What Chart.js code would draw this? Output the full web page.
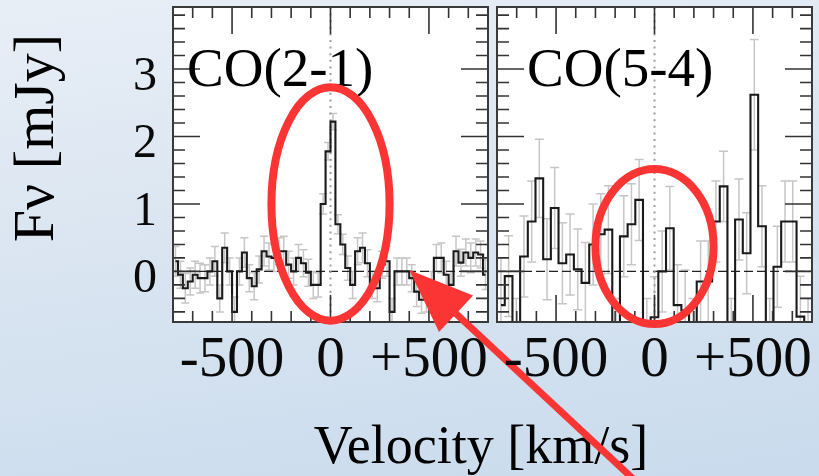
<!DOCTYPE html>
<html><head><meta charset="utf-8">
<script src="https://cdn.jsdelivr.net/npm/chart.js@4.4.0/dist/chart.umd.min.js"></script>
<style>
html,body{margin:0;padding:0;}
#wrap{position:relative;width:819px;height:476px;overflow:hidden;background:linear-gradient(172deg,#e8eef6 0%,#dae5f1 45%,#c9dbed 100%);}
canvas{position:absolute;left:0;top:0;}
</style></head><body>
<div id="wrap"><canvas id="c1" width="819" height="476"></canvas><canvas id="c2" width="819" height="476"></canvas></div>
<script>
// ---------- DATA ----------
const panelTitles = ['CO(2-1)', 'CO(5-4)'];
const xTickValues = [-500, 0, 500];
const xTickText = ['-500', '0', '+500'];
const yTickValues = [0, 1, 2, 3];
const xAxisTitle = 'Velocity [km/s]';
const yAxisTitle = 'F\u03BD [mJy]';

const co21Velocity = [-787.5,-762.5,-737.5,-712.5,-687.5,-662.5,-637.5,-612.5,-587.5,-562.5,-537.5,-512.5,-487.5,-462.5,-437.5,-412.5,-387.5,-362.5,-337.5,-312.5,-287.5,-262.5,-237.5,-212.5,-187.5,-162.5,-137.5,-112.5,-87.5,-62.5,-37.5,-12.5,12.5,37.5,62.5,87.5,112.5,137.5,162.5,187.5,212.5,237.5,262.5,287.5,312.5,337.5,362.5,387.5,412.5,437.5,462.5,487.5,512.5,537.5,562.5,587.5,612.5,637.5,662.5,687.5,712.5,737.5,762.5,787.5];
const co21Flux = [0.15,-0.05,-0.25,-0.15,-0.05,-0.1,-0.1,0.0,0.15,-0.4, 0.35,0.0,-0.6,0.0,0.28,-0.1,-0.22,0.03,0.3,0.22, 0.2,0.3,0.3,0.1,0.0,0.2,0.12,-0.02,-0.2,-0.2, 1.0,1.78,2.22,0.7,0.4,0.05,-0.2,0.3,0.35,0.12, -0.2,-0.25,0.1,0.15,-0.6,0.0,0.0,0.0,-0.1,-0.3, -0.42,-0.4,-0.2,0.2,0.2,-0.05,-0.2,0.3,0.13,0.28, 0.2,0.28,0.25,-0.05];
const co21Error = [0.22,0.2,0.22,0.2,0.2,0.22,0.2,0.2,0.22,0.2, 0.22,0.2,0.22,0.2,0.22,0.2,0.2,0.2,0.22,0.2, 0.2,0.2,0.22,0.2,0.2,0.2,0.2,0.2,0.2,0.18, 0.15,0.13,0.12,0.14,0.15,0.18,0.2,0.2,0.22,0.2, 0.2,0.2,0.2,0.22,0.2,0.2,0.2,0.2,0.2,0.22, 0.2,0.2,0.2,0.2,0.22,0.2,0.2,0.22,0.2,0.2, 0.22,0.2,0.2,0.22];

const co54Velocity = [-780,-741,-702,-663,-624,-585,-546,-507,-468,-429,-390,-351,-312,-273,-234,-195,-156,-117,-78,-39,0,39,78,117,156,195,234,273,312,351,390,429,468,507,546,585,624,663,702,741,780];
const co54Flux = [-0.5,-0.07,-1.0,0.22,0.74,1.38,0.18,0.94,0.12,0.25, 0.03,-0.17,0.4,0.55,0.62,-1.0,0.52,0.7,1.06,-1.0, -0.68,0.0,0.64,-0.5,-0.58,-1.0,-0.15,-0.15,0.74,1.26, -1.0,0.77,0.27,2.62,0.67,-1.0,0.07,0.74,0.74,-0.67, -1.0];
const co54Error = [0.7,0.6,0.6,0.6,0.6,0.58,0.6,0.6,0.6,0.6, 0.6,0.6,0.6,0.6,0.65,0.6,0.6,0.6,0.6,0.6, 0.6,0.6,0.62,0.6,0.6,0.6,0.6,0.6,0.6,0.52, 0.6,0.6,0.6,0.82,0.6,0.6,0.6,0.6,0.6,0.6, 0.6];

// ---------- STYLE / ANNOTATIONS ----------
const FONT = '"Liberation Serif", "Times New Roman", serif';
const RED = '#fb3434';
Chart.defaults.font.family = FONT;

function xLabel(v) {
  const i = xTickValues.findIndex(t => Math.abs(t - v) < 1e-6);
  return i >= 0 ? xTickText[i] : '';
}
function yLabel(v) {
  const i = yTickValues.findIndex(t => Math.abs(t - v) < 1e-6);
  return i >= 0 ? String(yTickValues[i]) : '';
}

function panelPlugin(cfg) {
  return {
    id: 'panel' + cfg.id,
    beforeDraw(chart) {
      const {ctx, chartArea: a} = chart;
      ctx.save();
      ctx.fillStyle = '#ffffff';
      ctx.fillRect(a.left, a.top, a.right - a.left, a.bottom - a.top);
      ctx.restore();
    },
    beforeDatasetsDraw(chart) {
      const {ctx, chartArea: a} = chart;
      const x = chart.scales.x, y = chart.scales.y;
      ctx.save();
      ctx.beginPath(); ctx.rect(a.left, a.top, a.right - a.left, a.bottom - a.top); ctx.clip();
      // error bars
      ctx.strokeStyle = '#c6c6c6'; ctx.lineWidth = 1.5;
      cfg.vel.forEach((v, i) => {
        const px = x.getPixelForValue(v);
        const lo = y.getPixelForValue(cfg.flux[i] - cfg.err[i]);
        const hi = y.getPixelForValue(cfg.flux[i] + cfg.err[i]);
        ctx.beginPath();
        ctx.moveTo(px, lo); ctx.lineTo(px, hi);
        ctx.moveTo(px - cfg.cap, lo); ctx.lineTo(px + cfg.cap, lo);
        ctx.moveTo(px - cfg.cap, hi); ctx.lineTo(px + cfg.cap, hi);
        ctx.stroke();
      });
      const y0 = y.getPixelForValue(0), x0 = x.getPixelForValue(0);
      ctx.setLineDash([9, 4]); ctx.strokeStyle = '#222'; ctx.lineWidth = 1.3;
      ctx.beginPath(); ctx.moveTo(a.left, y0); ctx.lineTo(a.right, y0); ctx.stroke();
      ctx.setLineDash([2, 4.6]); ctx.strokeStyle = '#9c9c9c'; ctx.lineWidth = 2;
      ctx.beginPath(); ctx.moveTo(x0, a.top); ctx.lineTo(x0, a.bottom); ctx.stroke();
      ctx.restore();
    },
    afterDatasetsDraw(chart) {
      const {ctx, chartArea: a} = chart;
      const x = chart.scales.x, y = chart.scales.y;
      ctx.save();
      // inner ticks on all four sides
      ctx.strokeStyle = '#333'; ctx.lineWidth = 1.6;
      ctx.beginPath();
      x.ticks.forEach(t => {
        if (t.value <= x.min || t.value >= x.max) return;
        const px = x.getPixelForValue(t.value);
        const len = (Math.abs(t.value % 500) < 1e-6) ? 27 : 11;
        ctx.moveTo(px, a.bottom); ctx.lineTo(px, a.bottom - len);
        ctx.moveTo(px, a.top); ctx.lineTo(px, a.top + len);
      });
      y.ticks.forEach(t => {
        if (t.value <= y.min || t.value >= y.max) return;
        const py = y.getPixelForValue(t.value);
        const len = (Math.abs(t.value - Math.round(t.value)) < 1e-6) ? 27 : 12;
        ctx.moveTo(a.left, py); ctx.lineTo(a.left + len, py);
        ctx.moveTo(a.right, py); ctx.lineTo(a.right - len, py);
      });
      ctx.stroke();
      // frame
      ctx.strokeStyle = '#3a3a3a'; ctx.lineWidth = 2;
      ctx.strokeRect(a.left, a.top, a.right - a.left, a.bottom - a.top);
      // panel title
      ctx.fillStyle = '#000';
      ctx.font = '55px ' + FONT;
      ctx.textAlign = 'left'; ctx.textBaseline = 'alphabetic';
      ctx.fillText(cfg.title, a.left + cfg.titleDx, 86);
      ctx.restore();
    },
    afterDraw(chart) {
      const {ctx} = chart;
      const x = chart.scales.x, y = chart.scales.y;
      ctx.save();
      if (cfg.axisTitles) {
        ctx.fillStyle = '#000';
        ctx.font = '54px ' + FONT;
        ctx.textAlign = 'center'; ctx.textBaseline = 'alphabetic';
        ctx.fillText(xAxisTitle, 481, 463);
        ctx.save();
        ctx.font = '58px ' + FONT;
        ctx.translate(38, 138); ctx.rotate(-Math.PI / 2);
        ctx.textBaseline = 'middle';
        ctx.fillText(yAxisTitle, 0, 0);
        ctx.restore();
      }
      // red ellipse annotation
      const e = cfg.ellipse;
      const cx = x.getPixelForValue(e.cx), cy = y.getPixelForValue(e.cy);
      const rx = Math.abs(x.getPixelForValue(e.cx + e.rx) - cx);
      const ry = Math.abs(y.getPixelForValue(e.cy + e.ry) - cy);
      ctx.strokeStyle = RED; ctx.lineWidth = 8;
      ctx.beginPath(); ctx.ellipse(cx, cy, rx, ry, 0, 0, Math.PI * 2); ctx.stroke();
      // red arrow annotation
      if (cfg.arrow) {
        const tx = x.getPixelForValue(cfg.arrow.tip[0]), ty = y.getPixelForValue(cfg.arrow.tip[1]);
        const sx = x.getPixelForValue(cfg.arrow.tail[0]), sy = y.getPixelForValue(cfg.arrow.tail[1]);
        const L = Math.hypot(tx - sx, ty - sy);
        const ux = (tx - sx) / L, uy = (ty - sy) / L;
        const nx = -uy, ny = ux;
        const hl = 64, hw = 25;
        const bx = tx - ux * hl, by = ty - uy * hl;
        ctx.strokeStyle = RED; ctx.lineWidth = 7;
        ctx.beginPath(); ctx.moveTo(sx, sy); ctx.lineTo(bx + ux * 4, by + uy * 4); ctx.stroke();
        ctx.fillStyle = RED;
        ctx.beginPath();
        ctx.moveTo(tx, ty);
        ctx.lineTo(bx + nx * hw, by + ny * hw);
        ctx.lineTo(bx - nx * hw, by - ny * hw);
        ctx.closePath(); ctx.fill();
      }
      ctx.restore();
    }
  };
}

function makeChart(canvas, cfg) {
  return new Chart(canvas, {
    type: 'line',
    data: {
      datasets: [{
        data: cfg.vel.map((v, i) => ({x: v, y: cfg.flux[i]})),
        stepped: 'middle',
        borderColor: '#1a1a1a',
        borderWidth: 2.1,
        pointRadius: 0,
        fill: false
      }]
    },
    options: {
      responsive: false,
      animation: false,
      devicePixelRatio: 1,
      events: [],
      layout: {padding: {left: 0, top: 7, right: cfg.padRight, bottom: 0}},
      plugins: {legend: {display: false}, tooltip: {enabled: false}},
      scales: {
        x: {
          type: 'linear', min: -800, max: 800,
          grid: {display: false, drawTicks: false}, border: {display: false},
          ticks: {stepSize: 100, maxTicksLimit: 100, autoSkip: false, maxRotation: 0, minRotation: 0,
                  padding: 5, font: {size: 57}, color: '#0a0a0a', callback: xLabel},
          afterFit: s => { s.height = 154; s.paddingLeft = 0; s.paddingRight = 0; }
        },
        y: {
          type: 'linear', min: -0.75, max: 3.92,
          grid: {display: false, drawTicks: false}, border: {display: false},
          ticks: {stepSize: 0.2, maxTicksLimit: 100, includeBounds: false, autoSkip: false,
                  display: cfg.showY, padding: 16, labelOffset: 8, font: {size: 48}, color: '#0a0a0a', callback: yLabel},
          afterFit: s => { s.width = cfg.yWidth; s.paddingTop = 0; s.paddingBottom = 0; }
        }
      }
    },
    plugins: [panelPlugin(cfg)]
  });
}

makeChart(document.getElementById('c1'), {
  id: 1, vel: co21Velocity, flux: co21Flux, err: co21Error, cap: 4,
  title: panelTitles[0], titleDx: 14, showY: true, yWidth: 173, padRight: 331, axisTitles: true,
  ellipse: {cx: 0, cy: 1.0, rx: 300, ry: 1.73},
  arrow: {tip: [400, 0.02], tail: [1627, -3.32]}
});
makeChart(document.getElementById('c2'), {
  id: 2, vel: co54Velocity, flux: co54Flux, err: co54Error, cap: 4.5,
  title: panelTitles[1], titleDx: 30, showY: false, yWidth: 497, padRight: 7, axisTitles: false,
  ellipse: {cx: 0, cy: 0.37, rx: 300, ry: 1.15}
});
</script>
</body></html>
